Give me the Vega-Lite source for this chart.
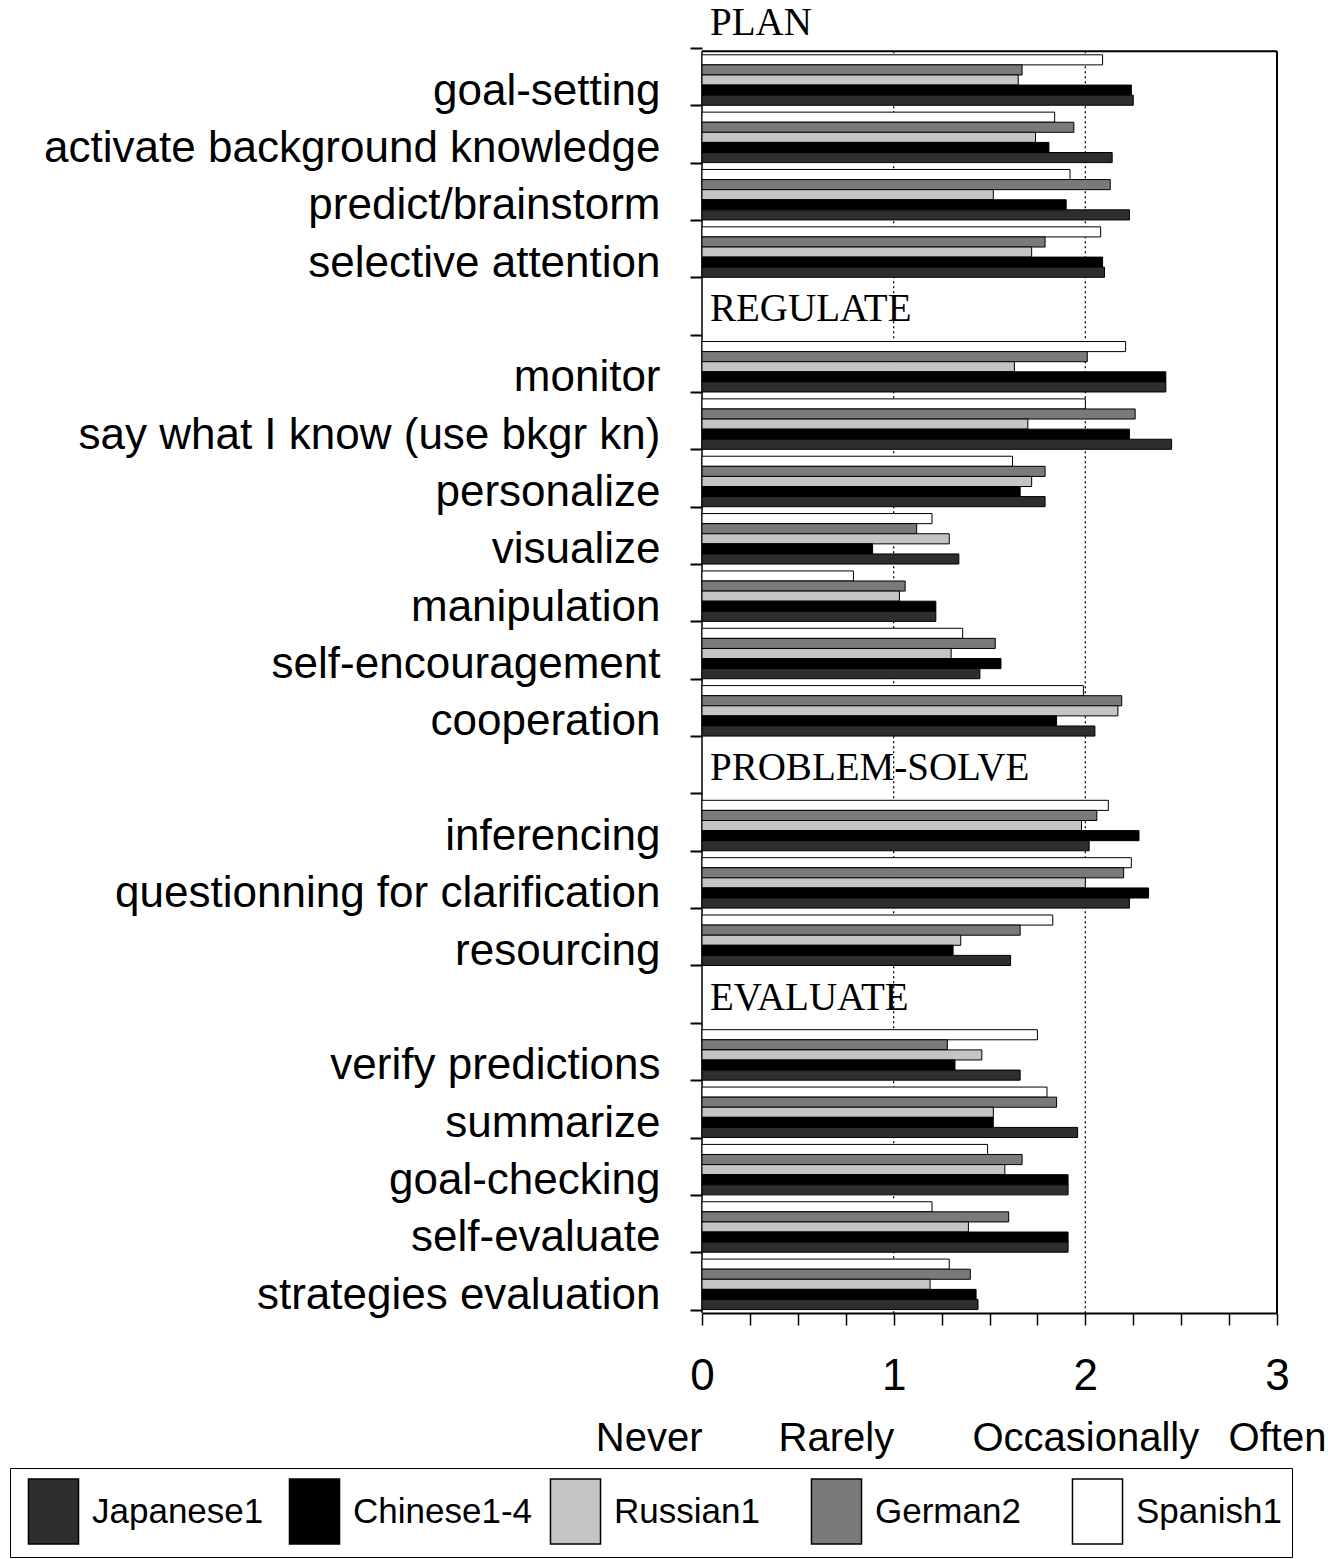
{
  "$schema": "https://vega.github.io/schema/vega-lite/v6.json",
  "autosize": {"type": "none"},
  "width": 575,
  "height": 1313,
  "padding": {"left": 702, "top": 0, "right": 51, "bottom": 246},
  "background": "white",
  "config": {"view": {"stroke": null}, "font": "Liberation Sans"},
  "datasets": {
    "bars": [
      {"cat": "goal-setting", "lang": "Spanish1", "v": 2.09},
      {"cat": "goal-setting", "lang": "German2", "v": 1.67},
      {"cat": "goal-setting", "lang": "Russian1", "v": 1.65},
      {"cat": "goal-setting", "lang": "Chinese1-4", "v": 2.24},
      {"cat": "goal-setting", "lang": "Japanese1", "v": 2.25},
      {"cat": "activate background knowledge", "lang": "Spanish1", "v": 1.84},
      {"cat": "activate background knowledge", "lang": "German2", "v": 1.94},
      {"cat": "activate background knowledge", "lang": "Russian1", "v": 1.74},
      {"cat": "activate background knowledge", "lang": "Chinese1-4", "v": 1.81},
      {"cat": "activate background knowledge", "lang": "Japanese1", "v": 2.14},
      {"cat": "predict/brainstorm", "lang": "Spanish1", "v": 1.92},
      {"cat": "predict/brainstorm", "lang": "German2", "v": 2.13},
      {"cat": "predict/brainstorm", "lang": "Russian1", "v": 1.52},
      {"cat": "predict/brainstorm", "lang": "Chinese1-4", "v": 1.90},
      {"cat": "predict/brainstorm", "lang": "Japanese1", "v": 2.23},
      {"cat": "selective attention", "lang": "Spanish1", "v": 2.08},
      {"cat": "selective attention", "lang": "German2", "v": 1.79},
      {"cat": "selective attention", "lang": "Russian1", "v": 1.72},
      {"cat": "selective attention", "lang": "Chinese1-4", "v": 2.09},
      {"cat": "selective attention", "lang": "Japanese1", "v": 2.10},
      {"cat": "monitor", "lang": "Spanish1", "v": 2.21},
      {"cat": "monitor", "lang": "German2", "v": 2.01},
      {"cat": "monitor", "lang": "Russian1", "v": 1.63},
      {"cat": "monitor", "lang": "Chinese1-4", "v": 2.42},
      {"cat": "monitor", "lang": "Japanese1", "v": 2.42},
      {"cat": "say what I know (use bkgr kn)", "lang": "Spanish1", "v": 2.00},
      {"cat": "say what I know (use bkgr kn)", "lang": "German2", "v": 2.26},
      {"cat": "say what I know (use bkgr kn)", "lang": "Russian1", "v": 1.70},
      {"cat": "say what I know (use bkgr kn)", "lang": "Chinese1-4", "v": 2.23},
      {"cat": "say what I know (use bkgr kn)", "lang": "Japanese1", "v": 2.45},
      {"cat": "personalize", "lang": "Spanish1", "v": 1.62},
      {"cat": "personalize", "lang": "German2", "v": 1.79},
      {"cat": "personalize", "lang": "Russian1", "v": 1.72},
      {"cat": "personalize", "lang": "Chinese1-4", "v": 1.66},
      {"cat": "personalize", "lang": "Japanese1", "v": 1.79},
      {"cat": "visualize", "lang": "Spanish1", "v": 1.20},
      {"cat": "visualize", "lang": "German2", "v": 1.12},
      {"cat": "visualize", "lang": "Russian1", "v": 1.29},
      {"cat": "visualize", "lang": "Chinese1-4", "v": 0.89},
      {"cat": "visualize", "lang": "Japanese1", "v": 1.34},
      {"cat": "manipulation", "lang": "Spanish1", "v": 0.79},
      {"cat": "manipulation", "lang": "German2", "v": 1.06},
      {"cat": "manipulation", "lang": "Russian1", "v": 1.03},
      {"cat": "manipulation", "lang": "Chinese1-4", "v": 1.22},
      {"cat": "manipulation", "lang": "Japanese1", "v": 1.22},
      {"cat": "self-encouragement", "lang": "Spanish1", "v": 1.36},
      {"cat": "self-encouragement", "lang": "German2", "v": 1.53},
      {"cat": "self-encouragement", "lang": "Russian1", "v": 1.30},
      {"cat": "self-encouragement", "lang": "Chinese1-4", "v": 1.56},
      {"cat": "self-encouragement", "lang": "Japanese1", "v": 1.45},
      {"cat": "cooperation", "lang": "Spanish1", "v": 1.99},
      {"cat": "cooperation", "lang": "German2", "v": 2.19},
      {"cat": "cooperation", "lang": "Russian1", "v": 2.17},
      {"cat": "cooperation", "lang": "Chinese1-4", "v": 1.85},
      {"cat": "cooperation", "lang": "Japanese1", "v": 2.05},
      {"cat": "inferencing", "lang": "Spanish1", "v": 2.12},
      {"cat": "inferencing", "lang": "German2", "v": 2.06},
      {"cat": "inferencing", "lang": "Russian1", "v": 1.98},
      {"cat": "inferencing", "lang": "Chinese1-4", "v": 2.28},
      {"cat": "inferencing", "lang": "Japanese1", "v": 2.02},
      {"cat": "questionning for clarification", "lang": "Spanish1", "v": 2.24},
      {"cat": "questionning for clarification", "lang": "German2", "v": 2.20},
      {"cat": "questionning for clarification", "lang": "Russian1", "v": 2.00},
      {"cat": "questionning for clarification", "lang": "Chinese1-4", "v": 2.33},
      {"cat": "questionning for clarification", "lang": "Japanese1", "v": 2.23},
      {"cat": "resourcing", "lang": "Spanish1", "v": 1.83},
      {"cat": "resourcing", "lang": "German2", "v": 1.66},
      {"cat": "resourcing", "lang": "Russian1", "v": 1.35},
      {"cat": "resourcing", "lang": "Chinese1-4", "v": 1.31},
      {"cat": "resourcing", "lang": "Japanese1", "v": 1.61},
      {"cat": "verify predictions", "lang": "Spanish1", "v": 1.75},
      {"cat": "verify predictions", "lang": "German2", "v": 1.28},
      {"cat": "verify predictions", "lang": "Russian1", "v": 1.46},
      {"cat": "verify predictions", "lang": "Chinese1-4", "v": 1.32},
      {"cat": "verify predictions", "lang": "Japanese1", "v": 1.66},
      {"cat": "summarize", "lang": "Spanish1", "v": 1.80},
      {"cat": "summarize", "lang": "German2", "v": 1.85},
      {"cat": "summarize", "lang": "Russian1", "v": 1.52},
      {"cat": "summarize", "lang": "Chinese1-4", "v": 1.52},
      {"cat": "summarize", "lang": "Japanese1", "v": 1.96},
      {"cat": "goal-checking", "lang": "Spanish1", "v": 1.49},
      {"cat": "goal-checking", "lang": "German2", "v": 1.67},
      {"cat": "goal-checking", "lang": "Russian1", "v": 1.58},
      {"cat": "goal-checking", "lang": "Chinese1-4", "v": 1.91},
      {"cat": "goal-checking", "lang": "Japanese1", "v": 1.91},
      {"cat": "self-evaluate", "lang": "Spanish1", "v": 1.20},
      {"cat": "self-evaluate", "lang": "German2", "v": 1.60},
      {"cat": "self-evaluate", "lang": "Russian1", "v": 1.39},
      {"cat": "self-evaluate", "lang": "Chinese1-4", "v": 1.91},
      {"cat": "self-evaluate", "lang": "Japanese1", "v": 1.91},
      {"cat": "strategies evaluation", "lang": "Spanish1", "v": 1.29},
      {"cat": "strategies evaluation", "lang": "German2", "v": 1.40},
      {"cat": "strategies evaluation", "lang": "Russian1", "v": 1.19},
      {"cat": "strategies evaluation", "lang": "Chinese1-4", "v": 1.43},
      {"cat": "strategies evaluation", "lang": "Japanese1", "v": 1.44}
    ],
    "headers": [
      {"cat": "PLAN"},
      {"cat": "REGULATE"},
      {"cat": "PROBLEM-SOLVE"},
      {"cat": "EVALUATE"}
    ]
  },
  "resolve": {"axis": {"x": "independent"}},
  "layer": [
    {
      "data": {"values": [{}]},
      "mark": {"type": "rule", "color": "black", "strokeWidth": 1.3, "strokeDash": [2, 3]},
      "encoding": {
        "x": {"datum": 1, "type": "quantitative", "axis": null},
        "y": {"datum": "goal-setting", "type": "nominal", "bandPosition": -0.07},
        "y2": {"datum": "strategies evaluation", "bandPosition": 1.07}
      }
    },
    {
      "data": {"values": [{}]},
      "mark": {"type": "rule", "color": "black", "strokeWidth": 1.3, "strokeDash": [2, 3]},
      "encoding": {
        "x": {"datum": 2, "type": "quantitative", "axis": null},
        "y": {"datum": "goal-setting", "type": "nominal", "bandPosition": -0.07},
        "y2": {"datum": "strategies evaluation", "bandPosition": 1.07}
      }
    },
    {
      "data": {"values": [{}]},
      "mark": {"type": "rule", "color": "black", "strokeWidth": 1.5},
      "encoding": {
        "x": {"datum": 0, "type": "quantitative", "axis": null},
        "y": {"datum": "goal-setting", "type": "nominal", "bandPosition": -0.07},
        "y2": {"datum": "strategies evaluation", "bandPosition": 1.07}
      }
    },
    {
      "data": {"name": "bars"},
      "mark": {"type": "bar", "stroke": "black", "strokeWidth": 1},
      "encoding": {
        "y": {
          "field": "cat",
          "type": "nominal",
          "scale": {
            "domain": ["PLAN", "goal-setting", "activate background knowledge", "predict/brainstorm", "selective attention", "REGULATE", "monitor", "say what I know (use bkgr kn)", "personalize", "visualize", "manipulation", "self-encouragement", "cooperation", "PROBLEM-SOLVE", "inferencing", "questionning for clarification", "resourcing", "EVALUATE", "verify predictions", "summarize", "goal-checking", "self-evaluate", "strategies evaluation"],
            "range": [-6, 1313],
            "paddingInner": 0.12,
            "paddingOuter": 0.06
          },
          "axis": {
            "title": null,
            "labelExpr": "indexof(['PLAN','REGULATE','PROBLEM-SOLVE','EVALUATE'], datum.value) >= 0 ? '' : datum.value",
            "labelFont": "Liberation Sans",
            "labelFontSize": 44,
            "labelColor": "black",
            "labelLimit": 800,
            "labelPadding": 30,
            "labelOffset": 11,
            "tickBand": "extent",
            "tickSize": 12,
            "tickWidth": 2,
            "tickColor": "black",
            "domain": false
          }
        },
        "yOffset": {
          "field": "lang",
          "type": "nominal",
          "sort": ["Spanish1", "German2", "Russian1", "Chinese1-4", "Japanese1"],
          "scale": {"paddingInner": 0, "paddingOuter": 0}
        },
        "x": {
          "field": "v",
          "type": "quantitative",
          "scale": {"domain": [0, 3], "nice": false},
          "axis": {
            "title": null,
            "orient": "bottom",
            "values": [0, 0.25, 0.5, 0.75, 1, 1.25, 1.5, 1.75, 2, 2.25, 2.5, 2.75, 3],
            "labelExpr": "datum.value % 1 === 0 ? '' + datum.value : ''",
            "labelFont": "Liberation Sans",
            "labelFontSize": 44,
            "labelColor": "black",
            "labelPadding": 29,
            "labelOverlap": false,
            "labelFlush": false,
            "grid": false,
            "tickSize": 12,
            "tickWidth": 1.5,
            "tickColor": "black",
            "domainColor": "black",
            "domainWidth": 2
          }
        },
        "fill": {
          "field": "lang",
          "type": "nominal",
          "scale": {
            "domain": ["Japanese1", "Chinese1-4", "Russian1", "German2", "Spanish1"],
            "range": ["#2e2e2e", "#000000", "#c4c4c4", "#7a7a7a", "#ffffff"]
          },
          "legend": {
            "title": null,
            "orient": "none",
            "legendX": -692,
            "legendY": 1468,
            "direction": "horizontal",
            "columns": 5,
            "gridAlign": "all",
            "columnPadding": 10,
            "padding": 10,
            "strokeColor": "black",
            "symbolType": "M-0.77,-1H0.77V1H-0.77Z",
            "symbolSize": 4225,
            "symbolStrokeColor": "black",
            "symbolStrokeWidth": 1.5,
            "symbolOpacity": 1,
            "labelFont": "Liberation Sans",
            "labelFontSize": 35,
            "labelColor": "black",
            "labelOffset": 5,
            "labelLimit": 400
          }
        }
      }
    },
    {
      "data": {"name": "headers"},
      "mark": {"type": "text", "align": "left", "baseline": "middle", "dx": 8, "font": "Liberation Serif", "fontSize": 39, "color": "black"},
      "encoding": {
        "y": {"field": "cat", "type": "nominal"},
        "x": {
          "datum": 0,
          "type": "quantitative",
          "axis": {
            "title": null,
            "orient": "bottom",
            "values": [0, 1, 2, 3],
            "labelExpr": "['Never','Rarely','Occasionally','Often'][datum.value]",
            "labelAlign": {"condition": {"test": "datum.value <= 1", "value": "right"}, "value": "center"},
            "labelFont": "Liberation Sans",
            "labelFontSize": 40,
            "labelColor": "black",
            "labelPadding": 105,
            "labelLimit": 400,
            "labelOverlap": false,
            "labelFlush": false,
            "ticks": false,
            "tickSize": 0,
            "domain": false,
            "grid": false
          }
        },
        "text": {"field": "cat"}
      }
    },
    {
      "data": {"values": [{}]},
      "mark": {"type": "rule", "color": "black", "strokeWidth": 2},
      "encoding": {
        "y": {"datum": "goal-setting", "type": "nominal", "bandPosition": -0.07}
      }
    },
    {
      "data": {"values": [{}]},
      "mark": {"type": "rule", "color": "black", "strokeWidth": 2},
      "encoding": {
        "x": {"datum": 3, "type": "quantitative", "axis": null},
        "y": {"datum": "goal-setting", "type": "nominal", "bandPosition": -0.07},
        "y2": {"datum": "strategies evaluation", "bandPosition": 1.07}
      }
    }
  ]
}
